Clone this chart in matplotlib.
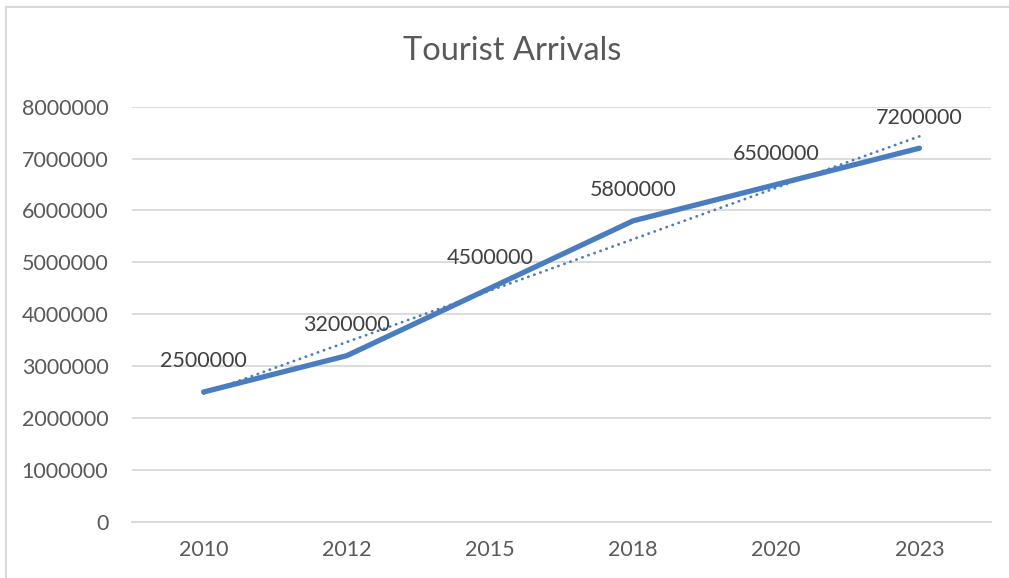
import numpy as np
import matplotlib
matplotlib.use("Agg")
import matplotlib.pyplot as plt
from matplotlib.patches import Rectangle

years = ["2010", "2012", "2015", "2018", "2020", "2023"]
arrivals = [2500000, 3200000, 4500000, 5800000, 6500000, 7200000]
title = "Tourist Arrivals"

plt.rcParams['font.family'] = ['Lato', 'DejaVu Sans']
W, H = 1009, 578
fig = plt.figure(figsize=(W / 100, H / 100), dpi=100)
ax = fig.add_axes([132 / W, 1 - 521.7 / H, (991 - 132) / W, (521.7 - 106.7) / H])

x = np.arange(len(years))
line_color = "#4a7dbf"
ax.plot(x, arrivals, color=line_color, lw=3.8, solid_capstyle="round", solid_joinstyle="round", zorder=3)

# linear trendline
coef = np.polyfit(x + 1, arrivals, 1)
trend = np.polyval(coef, x + 1)
ax.plot(x, trend, color=line_color, lw=2.0, linestyle=(0, (0.1, 2.2)), dash_capstyle="round", zorder=2)

for xi, v in zip(x, arrivals):
    ax.annotate(f"{v}", (xi, v), xytext=(0, 22), textcoords="offset points",
                ha="center", va="center", fontsize=15.5, color="#404040", zorder=4)

ax.set_xlim(-0.5, len(years) - 0.5)
ax.set_ylim(0, 8000000)
ax.set_yticks(np.arange(0, 8000001, 1000000))
ax.set_yticklabels([str(int(t)) for t in np.arange(0, 8000001, 1000000)])
ax.set_xticks(x)
ax.set_xticklabels(years)
ax.tick_params(axis="both", length=0, labelsize=15.5, labelcolor="#595959")
ax.tick_params(axis="y", pad=17)
ax.tick_params(axis="x", pad=13)
ax.grid(axis="y", color="#d9d9d9", lw=1.3)
ax.set_axisbelow(True)
for s in ["top", "right", "left"]:
    ax.spines[s].set_visible(False)
ax.spines["bottom"].set_color("#d9d9d9")
ax.spines["bottom"].set_linewidth(1.3)

fig.text(512 / W, 1 - 51 / H, title, ha="center", va="center", fontsize=23.5, color="#595959")

fig.patches.append(Rectangle((6 / W, -0.1), 1.2, 1 - 7 / H + 0.1, transform=fig.transFigure,
                             fill=False, edgecolor="#d9d9d9", lw=1.5))

fig.savefig("out.png", dpi=100)
